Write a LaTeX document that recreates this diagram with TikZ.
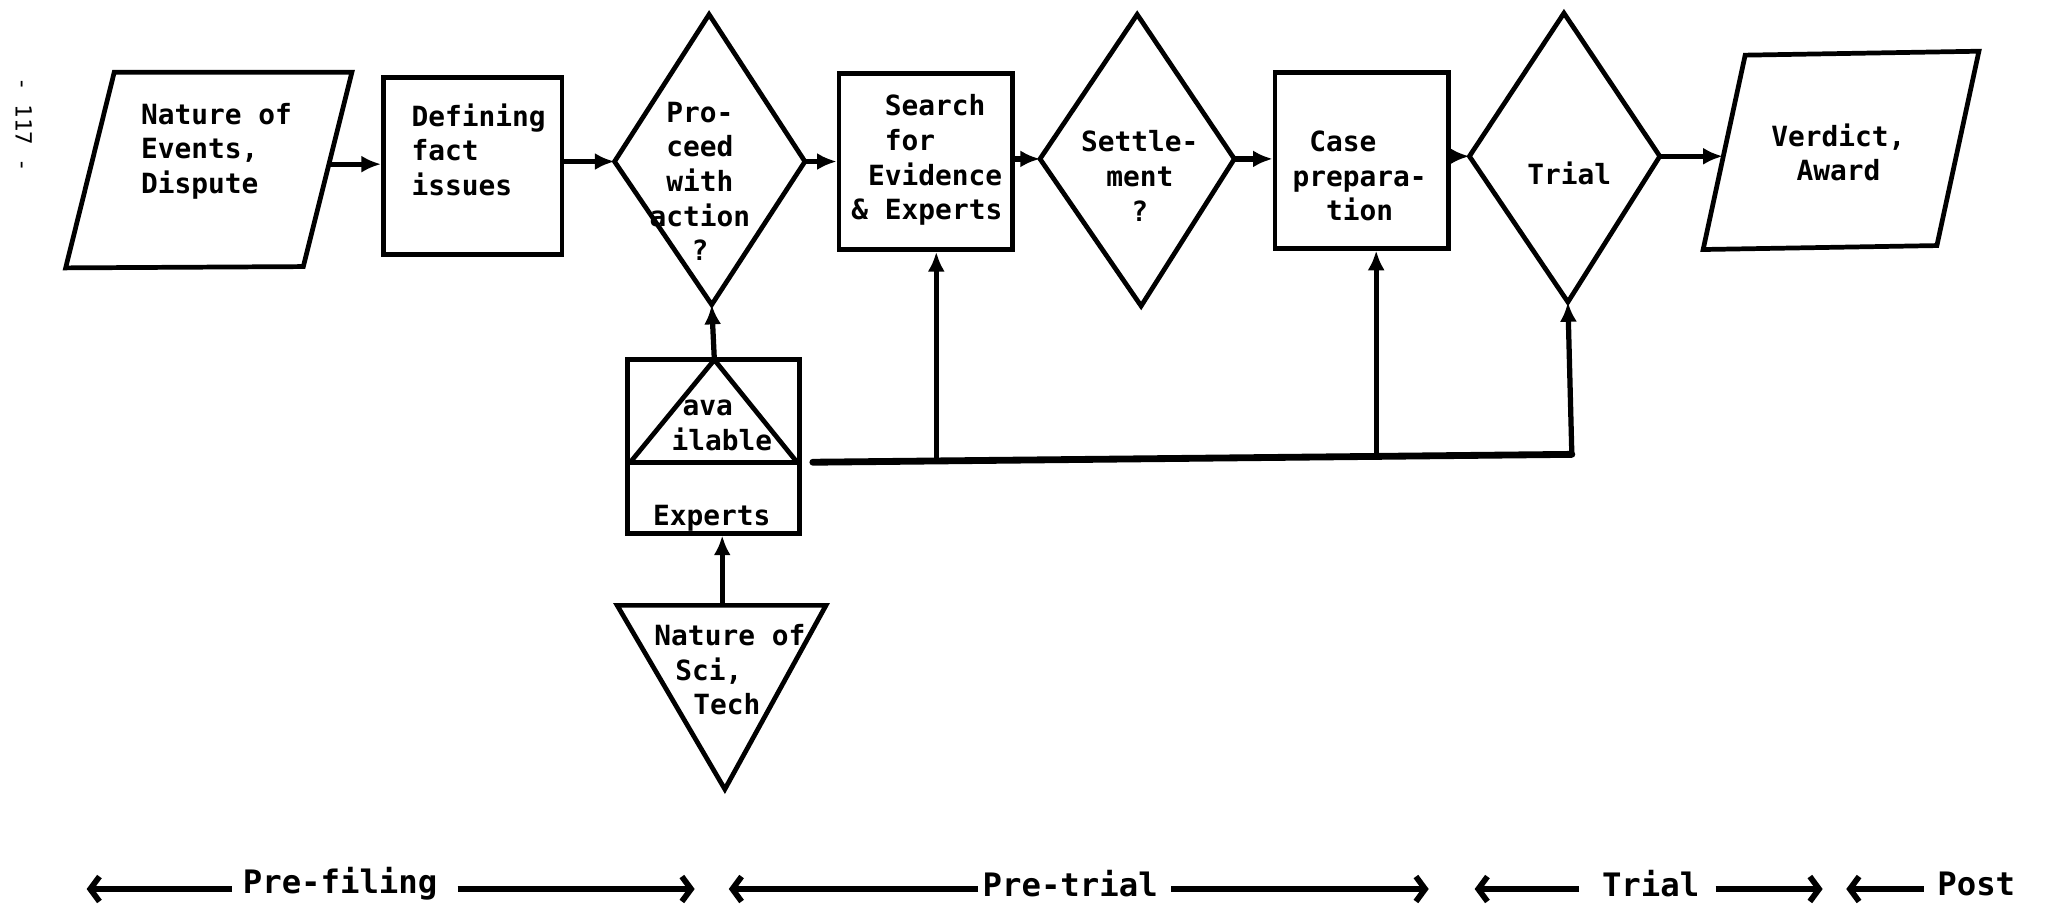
\documentclass[tikz,border=0pt]{standalone}
\usepackage{fontspec}
\setmonofont{DejaVu Sans Mono}
\usetikzlibrary{arrows.meta}
\begin{document}
\begin{tikzpicture}[x=0.5pt,y=-0.5pt,
  shp/.style={line width=1.8pt, line join=miter},
  lbl/.style={font=\ttfamily\bfseries\fontsize{10.6}{13.2}\selectfont, align=left, inner sep=0pt},
  phlbl/.style={font=\ttfamily\bfseries\fontsize{12.3}{14}\selectfont, inner sep=0pt},
  flow/.style={line width=2pt, -{Latex[length=7.5pt,width=6.5pt]}},
  bus/.style={line width=2.6pt, line cap=round},
  phase/.style={line width=2.4pt, -{Straight Barb[length=3.5pt,width=9.5pt,line width=2.2pt]}}]
\useasboundingbox (0,0) rectangle (1568,698);
% ---------- coordinates of shapes ----------
\coordinate (p1tl) at (87,55);  \coordinate (p1tr) at (268,55);
\coordinate (p1br) at (231,203); \coordinate (p1bl) at (50,204);
\coordinate (p1r) at (249,125);
\coordinate (d1t) at (540,11); \coordinate (d1r) at (613,123);
\coordinate (d1b) at (542,232); \coordinate (d1l) at (468,123);
\coordinate (d2t) at (866,11); \coordinate (d2r) at (940,121);
\coordinate (d2b) at (869,233); \coordinate (d2l) at (792,121);
\coordinate (d3t) at (1191,10); \coordinate (d3r) at (1264,119);
\coordinate (d3b) at (1194,230); \coordinate (d3l) at (1119,119);
\coordinate (p2tl) at (1329,42); \coordinate (p2tr) at (1507,39);
\coordinate (p2br) at (1475,187); \coordinate (p2bl) at (1297,190);
\coordinate (p2l) at (1312,119);
\coordinate (ettop) at (544,274); \coordinate (etl) at (480,352); \coordinate (etr) at (607,352);
\coordinate (t1) at (470,461); \coordinate (t2) at (629,461); \coordinate (t3) at (552,601);
\coordinate (tt) at (550,461);
% ---------- shapes ----------
\draw[shp] (p1tl) -- (p1tr) -- (p1br) -- (p1bl) -- cycle;
\node[shp, draw, minimum width=68pt, minimum height=67.5pt, inner sep=0pt] (r1) at (360,126.5) {};
\draw[shp] (d1t) -- (d1r) -- (d1b) -- (d1l) -- cycle;
\node[shp, draw, minimum width=66pt, minimum height=67pt, inner sep=0pt] (r2) at (705,123) {};
\draw[shp] (d2t) -- (d2r) -- (d2b) -- (d2l) -- cycle;
\node[shp, draw, minimum width=66pt, minimum height=67pt, inner sep=0pt] (r3) at (1037,122) {};
\draw[shp] (d3t) -- (d3r) -- (d3b) -- (d3l) -- cycle;
\draw[shp] (p2tl) -- (p2tr) -- (p2br) -- (p2bl) -- cycle;
\node[shp, draw, minimum width=65.5pt, minimum height=66pt, inner sep=0pt] (ex) at (543.5,340) {};
\draw[shp] (ex.west |- etl) -- (ex.east |- etl);
\draw[shp] (etl) -- (ettop) -- (etr);
\draw[shp] (t1) -- (t2) -- (t3) -- cycle;
% ---------- texts ----------
\node[lbl, anchor=west] (tp1) at (107,115) {Nature of\\Events,\\Dispute};
\node[lbl, anchor=west] (tr1) at (313,114) {Defining\\fact\\issues};
\node[lbl, align=center] (td1) at (533,138) {Pro-\\ceed\\with\\action\\?};
\node[lbl, anchor=west] (tr2) at (648,122) {\hspace*{1.2em}Search\\\hspace*{1.2em}for\\\hspace*{0.6em}Evidence\\\& Experts};
\node[lbl, align=center] (td2) at (868,134) {Settle-\\ment\\?};
\node[lbl, anchor=west] (tr3) at (984,134) {\hspace*{0.6em}Case\\prepara-\\\hspace*{1.2em}tion};
\node[lbl] (td3) at (1195,132) {Trial};
\node[lbl, align=center] (tp2) at (1400,116) {Verdict,\\Award};
\node[lbl, anchor=west] (tav) at (511,324) {\hspace*{0.4em}ava\\ilable};
\node[lbl] (tex) at (542,395) {Experts};
\node[lbl, anchor=west] (tt1) at (498,510) {Nature of\\\hspace*{0.75em}Sci,\\\hspace*{1.4em}Tech};
\node[font=\ttfamily\fontsize{8.5}{10}\selectfont, rotate=-90, inner sep=0pt] (pg) at (18,95) {- 117 -};
% ---------- flow connectors ----------
\draw[flow] (p1r) -- (r1.west |- p1r);
\draw[flow] (r1.east |- d1l) -- (d1l);
\draw[flow] (d1r) -- (r2.west |- d1r);
\draw[flow] (r2.east |- d2l) -- (d2l);
\draw[flow] (d2r) -- (r3.west |- d2r);
\draw[flow] (r3.east |- d3l) -- (d3l);
\draw[flow] (d3r) -- (p2l);
\draw[flow] (ettop) -- (d1b);
\draw[flow] (tt) -- (tt |- ex.south);
% ---------- bus ----------
\coordinate (b0) at (619,352);
\coordinate (b1) at (713,350.5);
\coordinate (b2) at (1048,347);
\coordinate (b3) at (1197,346);
\draw[bus] (b0) -- (b3);
\draw[flow] (b1) -- (b1 |- r2.south);
\draw[flow] (b2) -- (b2 |- r3.south);
\draw[flow] (b3) -- (d3b);
% ---------- phases ----------
\node[phlbl] (ph1) at (259,673) {Pre-filing};
\node[phlbl] (ph2) at (815,673) {Pre-trial};
\node[phlbl] (ph3) at (1257,673) {Trial};
\node[phlbl] (ph4) at (1505,673) {Post};
\coordinate (a1l) at (66,677); \coordinate (a1r) at (529,677);
\coordinate (a2l) at (555,677); \coordinate (a2r) at (1088,677);
\coordinate (a3l) at (1123,677); \coordinate (a3r) at (1388,677);
\coordinate (a4l) at (1406,677);
\draw[phase] ([xshift=-4pt]ph1.west |- a1l) -- (a1l);
\draw[phase] ([xshift=7.5pt]ph1.east |- a1r) -- (a1r);
\draw[phase] ([xshift=-1.5pt]ph2.west |- a2l) -- (a2l);
\draw[phase] ([xshift=5pt]ph2.east |- a2r) -- (a2r);
\draw[phase] ([xshift=-8.5pt]ph3.west |- a3l) -- (a3l);
\draw[phase] ([xshift=6pt]ph3.east |- a3r) -- (a3r);
\draw[phase] ([xshift=-5pt]ph4.west |- a4l) -- (a4l);
\end{tikzpicture}
\end{document}
